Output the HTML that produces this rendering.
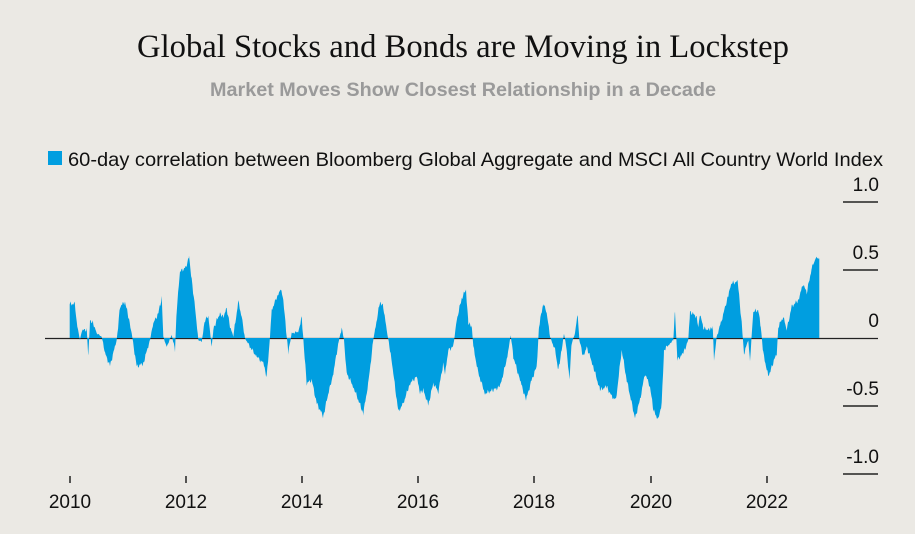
<!DOCTYPE html>
<html><head><meta charset="utf-8"><style>
body{margin:0;background:#ebe9e4;}
svg{display:block;}
</style></head><body>
<svg id="s" width="915" height="534" xmlns="http://www.w3.org/2000/svg" style="background:#ebe9e4">
<text x="463" y="57" text-anchor="middle" font-family="Liberation Serif, serif" font-size="32.5" fill="#111" textLength="652" lengthAdjust="spacingAndGlyphs">Global Stocks and Bonds are Moving in Lockstep</text>
<text x="463" y="96" text-anchor="middle" font-family="Liberation Sans, sans-serif" font-weight="bold" font-size="19.5" fill="#9a9a9a" textLength="506" lengthAdjust="spacingAndGlyphs">Market Moves Show Closest Relationship in a Decade</text>
<rect x="48" y="151" width="14" height="14" fill="#009ee0"/>
<text x="68" y="166" font-family="Liberation Sans, sans-serif" font-size="19.5" fill="#111" textLength="815" lengthAdjust="spacingAndGlyphs">60-day correlation between Bloomberg Global Aggregate and MSCI All Country World Index</text>
<g font-family="Liberation Sans, sans-serif" font-size="19" fill="#111" text-anchor="end">
<text x="879" y="191">1.0</text><text x="879" y="259">0.5</text><text x="879" y="327">0</text><text x="879" y="395">-0.5</text><text x="879" y="463">-1.0</text>
</g>
<g stroke="#222" stroke-width="1.5">
<line x1="843" x2="878" y1="202" y2="202"/><line x1="843" x2="878" y1="270" y2="270"/><line x1="843" x2="878" y1="406" y2="406"/><line x1="843" x2="878" y1="474" y2="474"/>
<line x1="45" x2="878" y1="338.5" y2="338.5" stroke-width="1.2"/>
</g>
<path id="area" fill="#009ee0"/>
<g stroke="#222" stroke-width="1.5">
<line x1="70" x2="70" y1="476" y2="483"/><line x1="186" x2="186" y1="476" y2="483"/><line x1="302" x2="302" y1="476" y2="483"/><line x1="418" x2="418" y1="476" y2="483"/><line x1="534" x2="534" y1="476" y2="483"/><line x1="651" x2="651" y1="476" y2="483"/><line x1="767" x2="767" y1="476" y2="483"/>
</g>
<g font-family="Liberation Sans, sans-serif" font-size="19" fill="#111" text-anchor="middle">
<text x="70" y="508">2010</text><text x="186" y="508">2012</text><text x="302" y="508">2014</text><text x="418" y="508">2016</text><text x="534" y="508">2018</text><text x="651" y="508">2020</text><text x="767" y="508">2022</text>
</g>
</svg>
<script>
var a=[89,295,89,192,104,192,112,260,120,300,126,270,140,270,145,350,150,240,160,250,170,280,185,290,195,340,210,378,230,300,240,200,255,185,265,230,275,280,290,380,310,370,330,300,340,250,355,220,365,175,370,290,380,320,395,285,405,330,410,210,420,95,440,80,447,45,455,120,465,200,475,300,485,305,495,240,505,230,515,320,520,270,530,240,540,220,550,230,560,205,570,260,580,290,595,185,605,230,615,295,630,320,650,350,670,370,680,410,690,290,695,210,715,160,722,148,730,180,740,290,745,340,755,280,775,275,785,232,790,295,800,430,815,420,830,490,850,530,860,480,880,400,895,310,905,265,912,300,920,400,940,440,970,520,985,430,1000,300,1005,270,1020,185,1030,200,1040,270,1050,330,1060,400,1075,515,1090,490,1110,430,1130,410,1140,460,1150,450,1165,495,1180,430,1195,455,1210,370,1215,405,1225,330,1240,320];
var b=[50,240,65,175,78,148,85,250,95,260,100,320,115,400,135,460,160,450,180,440,200,360,212,285,220,350,240,420,258,480,275,420,290,380,297,260,310,188,320,220,330,290,345,330,355,390,365,330,372,278,380,330,388,420,395,310,405,280,413,222,418,300,430,350,440,320,460,380,480,450,500,440,515,470,528,480,545,330,560,420,585,535,600,480,615,400,630,440,640,510,655,540,665,490,672,330,690,310,700,300,705,210,712,360,730,340,745,300,750,215,770,230,775,260,780,220,790,265,810,270,818,260,822,360,830,290,845,240,865,165,875,130,893,125,905,250,912,340,925,300,930,360,940,215,955,210,962,260,970,340,985,410,995,380,1010,340,1015,260,1030,230,1040,270,1055,200,1075,180,1090,130,1100,160,1115,85,1125,60,1130,55,1138,55];
var p=[];
for(var i=0;i<a.length;i+=2)p.push([40+a[i]/3,240+a[i+1]/3]);
for(var i=0;i<b.length;i+=2)p.push([440+b[i]/3,240+b[i+1]/3]);
var d="M69.7,338 ";
for(var i=0;i<p.length-1;i++){
 var x0=p[i][0],y0=p[i][1],x1=p[i+1][0],y1=p[i+1][1];
 for(var x=x0;x<x1;x+=0.7){
  var t=(x-x0)/(x1-x0);var y=y0+(y1-y0)*t;
  y+=(Math.sin(x*7.3)+Math.sin(x*3.1))*1.3*Math.min(1,Math.abs(y-338)/10);
  d+="L"+x.toFixed(1)+","+y.toFixed(1)+" ";
 }
}
var l=p[p.length-1];d+="L"+l[0].toFixed(1)+","+l[1].toFixed(1)+" L"+l[0].toFixed(1)+",338 Z";
document.getElementById("area").setAttribute("d",d);
</script>
</body></html>
